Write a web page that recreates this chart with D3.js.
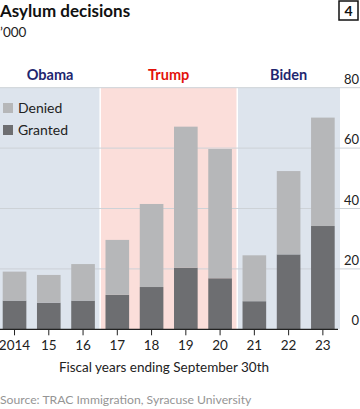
<!DOCTYPE html>
<html>
<head>
<meta charset="utf-8">
<script src="https://cdn.jsdelivr.net/npm/d3@7"></script>
<style>
  body { margin: 0; background: #fff; }
  text { font-family: Lato, "Noto Sans", sans-serif; }
</style>
</head>
<body>
<script>
// Chart data ('000 asylum decisions)
var years = ["2014", "15", "16", "17", "18", "19", "20", "21", "22", "23"];
var granted = [9.5, 8.8, 9.5, 11.4, 14.0, 20.4, 16.9, 9.3, 24.8, 34.2];
var denied = [9.6, 9.2, 12.1, 18.2, 27.5, 46.7, 42.8, 15.2, 27.6, 35.9];
var yTicks = [0, 20, 40, 60, 80];
var presidents = ["Obama", "Trump", "Biden"];
var terms = [["2014", "16"], ["17", "20"], ["21", "23"]];

var svgWidth = 360;
var svgHeight = 409;

var svg = d3.select("body")
  .append("svg")
  .attr("width", svgWidth)
  .attr("height", svgHeight);

var data = years.map((y, i) => ({ year: y, granted: granted[i], denied: denied[i] }));

// scales
var xScale = d3.scaleBand()
  .domain(years)
  .range([-2.6, 340])
  .paddingInner(0.31)
  .paddingOuter(0.155);

var yScale = d3.scaleLinear()
  .domain([0, 80])
  .range([329.3, 87.7]);

var gap = xScale.step() - xScale.bandwidth();

// president shading
var termColours = ["#dde4ed", "#fbdeda", "#dde4ed"];
var labelColours = ["#1f2770", "#e3120b", "#1f2770"];
terms.forEach((t, i) => {
  var x0 = Math.max(0, xScale(t[0]) - gap / 2);
  var x1 = xScale(t[1]) + xScale.bandwidth() + gap / 2;
  svg.append("rect")
    .attr("x", x0 + (i > 0 ? 0.75 : 0))
    .attr("y", yScale(80))
    .attr("width", x1 - x0 - (i > 0 ? 0.75 : 0) - (i < 2 ? 0.75 : 0))
    .attr("height", yScale(0) - yScale(80))
    .attr("fill", termColours[i]);
  svg.append("text")
    .attr("x", (x0 + x1) / 2)
    .attr("y", 80)
    .attr("text-anchor", "middle")
    .attr("font-size", 14.5)
    .attr("font-weight", "bold")
    .attr("fill", labelColours[i])
    .text(presidents[i]);
});

// gridlines + right hand labels
yTicks.forEach(t => {
  if (t > 0) {
    svg.append("line")
      .attr("x1", 0).attr("x2", 360)
      .attr("y1", yScale(t)).attr("y2", yScale(t))
      .attr("stroke", "#cdd2d7")
      .attr("stroke-width", 1);
  }
  svg.append("text")
    .attr("x", 359)
    .attr("y", yScale(t) - 4)
    .attr("text-anchor", "end")
    .attr("font-size", 13)
    .attr("fill", "#222")
    .text(t);
});

// stacked bars
var stack = d3.stack().keys(["granted", "denied"]);
var series = stack(data);
var colours = { granted: "#6d6e71", denied: "#b6b7b9" };

svg.selectAll("g.series")
  .data(series)
  .enter()
  .append("g")
  .attr("fill", d => colours[d.key])
  .selectAll("rect")
  .data(d => d)
  .enter()
  .append("rect")
  .attr("x", d => xScale(d.data.year))
  .attr("y", d => yScale(d[1]))
  .attr("width", xScale.bandwidth())
  .attr("height", d => yScale(d[0]) - yScale(d[1]));

// baseline with ticks
var xAxis = d3.axisBottom(xScale).tickSize(6).tickPadding(5);
var axisG = svg.append("g")
  .attr("transform", `translate(0, ${yScale(0)})`)
  .call(xAxis);
axisG.select(".domain").remove();
axisG.selectAll(".tick line").attr("stroke", "#222");
axisG.selectAll(".tick text")
  .attr("font-size", 13.5)
  .attr("fill", "#222")
  .attr("font-family", "Lato, 'Noto Sans', sans-serif");
svg.append("line")
  .attr("x1", 0).attr("x2", 338)
  .attr("y1", yScale(0)).attr("y2", yScale(0))
  .attr("stroke", "#222")
  .attr("stroke-width", 1.2);

// legend
var legend = [["Denied", colours.denied], ["Granted", colours.granted]];
legend.forEach((l, i) => {
  svg.append("rect")
    .attr("x", 3).attr("y", 103 + i * 22)
    .attr("width", 10).attr("height", 10)
    .attr("fill", l[1]);
  svg.append("text")
    .attr("x", 18).attr("y", 113 + i * 22)
    .attr("font-size", 14)
    .attr("fill", "#222")
    .text(l[0]);
});

// titles
svg.append("text")
  .attr("x", 0).attr("y", 17)
  .attr("font-size", 17)
  .attr("font-weight", "bold")
  .attr("fill", "#111")
  .text("Asylum decisions");
svg.append("text")
  .attr("x", 0).attr("y", 37)
  .attr("font-size", 13.5)
  .attr("fill", "#222")
  .text("\u2019000");

svg.append("rect")
  .attr("x", 339).attr("y", 1)
  .attr("width", 19).attr("height", 19)
  .attr("fill", "none")
  .attr("stroke", "#111")
  .attr("stroke-width", 1.5);
svg.append("text")
  .attr("x", 348.5).attr("y", 16)
  .attr("text-anchor", "middle")
  .attr("font-size", 14)
  .attr("font-weight", "bold")
  .attr("fill", "#111")
  .text("4");

svg.append("text")
  .attr("x", 164).attr("y", 372)
  .attr("text-anchor", "middle")
  .attr("font-size", 13.5)
  .attr("fill", "#222")
  .text("Fiscal years ending September 30th");

svg.append("text")
  .attr("x", 0).attr("y", 404)
  .attr("font-size", 12.2)
  .attr("fill", "#959595")
  .text("Source: TRAC Immigration, Syracuse University");
</script>
</body>
</html>
